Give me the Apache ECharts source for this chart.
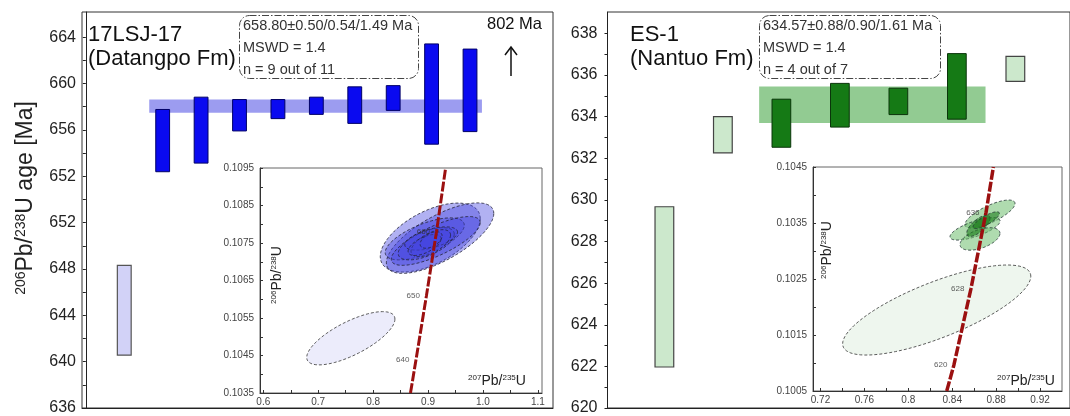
<!DOCTYPE html>
<html>
<head>
<meta charset="utf-8">
<script src="https://cdn.jsdelivr.net/npm/echarts@6/dist/echarts.min.js"></script>
<style>
html, body { margin: 0; padding: 0; background: #fff; }
#chart { width: 1070px; height: 416px; }
</style>
</head>
<body>
<div id="chart"></div>
<script>
// 17LSJ-17 (Datangpo Fm): spot number, 206Pb/238U age range [Ma], used in mean (1) or not (0)
var lsjSpot = [1, 2, 3, 4, 5, 6, 7, 8, 9, 10];
var lsjLow  = [639.99, 653.84, 654.49, 656.92, 657.85, 658.17, 657.49, 658.47, 655.92, 656.87];
var lsjHigh = [646.77, 658.54, 659.47, 659.29, 659.29, 659.47, 660.25, 660.34, 663.49, 663.10];
var lsjUsed = [0, 1, 1, 1, 1, 1, 1, 1, 1, 1];
var lsjMean = 658.80, lsjErr = 0.50, lsjBandFrom = 1.65, lsjBandTo = 10.31;
var lsjTickValues = [636, 639.5, 643, 646.5, 650, 653.5, 657, 660.5, 664];
var lsjTickLabels = ['636', '640', '644', '648', '652', '652', '656', '660', '664'];

// ES-1 (Nantuo Fm)
var esSpot = [1, 2, 3, 4, 5, 6, 7];
var esLow  = [621.97, 632.26, 632.53, 633.50, 634.10, 633.88, 635.70];
var esHigh = [629.67, 634.00, 634.84, 635.60, 635.37, 637.03, 636.90];
var esUsed = [0, 0, 1, 1, 1, 1, 0];
var esMean = 634.57, esErr = 0.88, esBandFrom = 2.62, esBandTo = 6.49;
var esTickValues = [620, 622, 624, 626, 628, 630, 632, 634, 636, 638];
var esTickLabels = ['620', '622', '624', '626', '628', '630', '632', '634', '636', '638'];

// concordia insets: ellipse centre (207/235, 206/238), half extent x, half extent y, correlation, used
var lsjEllX   = [0.7594, 0.904, 0.9219, 0.894, 0.914, 0.8967, 0.9057, 0.905, 0.8937, 0.9056];
var lsjEllY   = [0.10496, 0.107645, 0.10763, 0.10761, 0.107555, 0.10748, 0.10762, 0.107495, 0.107447, 0.10758];
var lsjEllDX  = [0.0803, 0.091, 0.0978, 0.072, 0.081, 0.051, 0.048, 0.036, 0.030, 0.020];
var lsjEllDY  = [0.00071, 0.00092, 0.00094, 0.00056, 0.00065, 0.00043, 0.00031, 0.00036, 0.00028, 0.00022];
var lsjEllRho = [0.72, 0.55, 0.70, 0.65, 0.75, 0.60, 0.55, 0.60, 0.60, 0.50];
var lsjEllUsed = [0, 1, 1, 1, 1, 1, 1, 1, 1, 1];
var lsjConcX = [0.868, 0.878, 0.897, 0.9155, 0.932];
var lsjConcY = [0.1035, 0.10438, 0.10609, 0.10781, 0.1095];
var lsjConcAge = ['', '640', '650', '660', ''];
var lsjInsetXValues = [0.6, 0.7, 0.8, 0.9, 1.0, 1.1];
var lsjInsetXLabels = ['0.6', '0.7', '0.8', '0.9', '1.0', '1.1'];
var lsjInsetYValues = [0.1035, 0.1045, 0.1055, 0.1065, 0.1075, 0.1085, 0.1095];
var lsjInsetYLabels = ['0.1035', '0.1045', '0.1055', '0.1065', '0.1075', '0.1085', '0.1095'];

var esEllX   = [0.8259, 0.8744, 0.8608, 0.8653, 0.8638, 0.871];
var esEllY   = [0.101946, 0.10366, 0.103395, 0.103215, 0.10345, 0.10355];
var esEllDX  = [0.0857, 0.0228, 0.0228, 0.0182, 0.0106, 0.012];
var esEllDY  = [0.000804, 0.00025, 0.0002, 0.0002, 0.00019, 0.00015];
var esEllRho = [0.75, 0.75, 0.70, 0.50, 0.70, 0.80];
var esEllUsed = [0, 1, 1, 1, 2, 2];
var esConcX = [0.835, 0.8415, 0.857, 0.8708, 0.8775];
var esConcY = [0.1005, 0.10096, 0.10232, 0.10369, 0.1045];
var esConcAge = ['', '620', '628', '636', ''];
var esInsetXValues = [0.72, 0.76, 0.80, 0.84, 0.88, 0.92];
var esInsetXLabels = ['0.72', '0.76', '0.8', '0.84', '0.88', '0.92'];
var esInsetYValues = [0.1005, 0.1015, 0.1025, 0.1035, 0.1045];
var esInsetYLabels = ['0.1005', '0.1015', '0.1025', '0.1035', '0.1045'];

var FONT = 'Liberation Sans, Arial, sans-serif';
var chart = echarts.init(document.getElementById('chart'));

function withMids(vals) {
  var out = [];
  for (var i = 0; i < vals.length; i++) {
    out.push(vals[i]);
    if (i < vals.length - 1) out.push((vals[i] + vals[i + 1]) / 2);
  }
  return out;
}
function labelFor(vals, labels) {
  return function (v) {
    for (var i = 0; i < vals.length; i++) {
      if (Math.abs(vals[i] - v) < 1e-7) return labels[i];
    }
    return '';
  };
}

function boxes(width, used, spare) {
  return function (params, api) {
    var x = api.value(0);
    var a = api.coord([x - width / 2, api.value(2)]);
    var b = api.coord([x + width / 2, api.value(1)]);
    return {
      type: 'rect',
      shape: {x: a[0], y: a[1], width: b[0] - a[0], height: b[1] - a[1]},
      style: api.value(3) === 1 ? used : spare
    };
  };
}
function band(style) {
  return function (params, api) {
    var a = api.coord([api.value(0), api.value(2) + api.value(3)]);
    var b = api.coord([api.value(1), api.value(2) - api.value(3)]);
    return {type: 'rect', shape: {x: a[0], y: a[1], width: b[0] - a[0], height: b[1] - a[1]}, style: style};
  };
}
function ellipse(styles) {
  return function (params, api) {
    var cx = api.value(0), cy = api.value(1), ex = api.value(2), ey = api.value(3), r = api.value(4);
    var q = Math.sqrt(1 - r * r), pts = [];
    for (var k = 0; k < 90; k++) {
      var t = k / 90 * Math.PI * 2;
      pts.push(api.coord([cx + ex * Math.cos(t), cy + ey * (r * Math.cos(t) + q * Math.sin(t))]));
    }
    return {type: 'polygon', shape: {points: pts}, style: styles[api.value(5)]};
  };
}

function mainY(grid, min, max, vals, labels, margin) {
  return {
    type: 'value', gridIndex: grid, min: min, max: max,
    axisLine: {show: true, lineStyle: {color: '#222', width: 1}},
    axisTick: {show: true, length: 3, customValues: withMids(vals), lineStyle: {color: '#222'}},
    axisLabel: {customValues: vals, formatter: labelFor(vals, labels), fontSize: 16, color: '#222', margin: margin, fontFamily: FONT},
    splitLine: {show: false}
  };
}
function mainX(grid, min, max) {
  return {
    type: 'value', gridIndex: grid, min: min, max: max,
    axisLine: {show: true, onZero: false, lineStyle: {color: '#222', width: 1}},
    axisTick: {show: false}, axisLabel: {show: false}, splitLine: {show: false}
  };
}
function insetAxis(grid, min, max, vals, labels, margin) {
  return {
    type: 'value', gridIndex: grid, min: min, max: max,
    axisLine: {show: true, onZero: false, lineStyle: {color: '#333', width: 1}},
    axisTick: {show: true, inside: true, length: 3, customValues: withMids(vals), lineStyle: {color: '#333'}},
    axisLabel: {customValues: vals, formatter: labelFor(vals, labels), fontSize: 10, color: '#444', margin: margin, fontFamily: FONT},
    splitLine: {show: false}
  };
}

function zip2(a, b) { return a.map(function (v, i) { return [v, b[i]]; }); }

var lsjBoxes = lsjSpot.map(function (s, i) { return [s, lsjLow[i], lsjHigh[i], lsjUsed[i]]; });
var esBoxes = esSpot.map(function (s, i) { return [s, esLow[i], esHigh[i], esUsed[i]]; });
var lsjEll = lsjEllX.map(function (v, i) { return [v, lsjEllY[i], lsjEllDX[i], lsjEllDY[i], lsjEllRho[i], lsjEllUsed[i]]; });
var esEll = esEllX.map(function (v, i) { return [v, esEllY[i], esEllDX[i], esEllDY[i], esEllRho[i], esEllUsed[i]]; });

var dash = [3, 2];
var option = {
  animation: false,
  textStyle: {fontFamily: FONT},
  grid: [
    {left: 82, top: 12, width: 471, height: 398.5, show: true, borderColor: '#333', borderWidth: 1},
    {left: 607.5, top: 12, width: 467.5, height: 398.5, show: true, borderColor: '#333', borderWidth: 1},
    {left: 260, top: 168, width: 282, height: 225, show: true, borderColor: '#666', borderWidth: 1, backgroundColor: '#fff'},
    {left: 813, top: 167, width: 249, height: 224, show: true, borderColor: '#666', borderWidth: 1, backgroundColor: '#fff'}
  ],
  xAxis: [
    mainX(0, -0.1, 12.16),
    mainX(1, 0.0276, 7.934),
    insetAxis(2, 0.594, 1.1075, lsjInsetXValues, lsjInsetXLabels, 4),
    insetAxis(3, 0.7132, 0.94, esInsetXValues, esInsetXLabels, 4)
  ],
  yAxis: [
    mainY(0, 636, 665.9, lsjTickValues, lsjTickLabels, 6),
    mainY(1, 620, 639.03, esTickValues, esTickLabels, 10),
    insetAxis(2, 0.1035, 0.1095, lsjInsetYValues, lsjInsetYLabels, 6),
    insetAxis(3, 0.1005, 0.1045, esInsetYValues, esInsetYLabels, 6)
  ],
  series: [
    {type: 'custom', xAxisIndex: 0, yAxisIndex: 0, data: [[lsjBandFrom, lsjBandTo, lsjMean, lsjErr]],
      renderItem: band({fill: '#9c9cf0'})},
    {type: 'custom', xAxisIndex: 0, yAxisIndex: 0, data: lsjBoxes,
      renderItem: boxes(0.36, {fill: '#0a0af0', stroke: '#000066', lineWidth: 1}, {fill: '#d2d2f7', stroke: '#555', lineWidth: 1.2})},
    {type: 'custom', xAxisIndex: 1, yAxisIndex: 1, data: [[esBandFrom, esBandTo, esMean, esErr]],
      renderItem: band({fill: '#92cb92'})},
    {type: 'custom', xAxisIndex: 1, yAxisIndex: 1, data: esBoxes,
      renderItem: boxes(0.32, {fill: '#157a15', stroke: '#0b350b', lineWidth: 1}, {fill: '#cce8cc', stroke: '#444', lineWidth: 1.2})},

    {type: 'line', xAxisIndex: 2, yAxisIndex: 2, data: zip2(lsjConcX, lsjConcY), symbol: 'none',
      lineStyle: {color: '#9b1010', width: 3, type: [10, 2]}},
    {type: 'custom', xAxisIndex: 2, yAxisIndex: 2, data: lsjEll,
      renderItem: ellipse([
        {fill: '#ececfb', stroke: '#333', lineWidth: 0.8, lineDash: dash},
        {fill: 'rgba(70,70,225,0.42)', stroke: '#223', lineWidth: 0.8, lineDash: dash}
      ])},
    {type: 'scatter', xAxisIndex: 2, yAxisIndex: 2, data: zip2(lsjConcX, lsjConcY), symbolSize: 1,
      itemStyle: {color: 'rgba(0,0,0,0)'},
      label: {show: true, position: 'left', distance: 6, fontSize: 8, color: '#333',
        formatter: function (p) { return lsjConcAge[p.dataIndex]; }}},

    {type: 'line', xAxisIndex: 3, yAxisIndex: 3, data: zip2(esConcX, esConcY), symbol: 'none',
      lineStyle: {color: '#9b1010', width: 3.5, type: [10, 2]}},
    {type: 'custom', xAxisIndex: 3, yAxisIndex: 3, data: esEll,
      renderItem: ellipse([
        {fill: '#eef6ee', stroke: '#333', lineWidth: 0.8, lineDash: dash},
        {fill: 'rgba(110,190,110,0.55)', stroke: '#233', lineWidth: 0.8, lineDash: dash},
        {fill: 'rgba(30,125,30,0.6)', stroke: '#233', lineWidth: 0.8, lineDash: dash}
      ])},
    {type: 'scatter', xAxisIndex: 3, yAxisIndex: 3, data: zip2(esConcX, esConcY), symbolSize: 1,
      itemStyle: {color: 'rgba(0,0,0,0)'},
      label: {show: true, position: 'left', distance: 6, fontSize: 8, color: '#333',
        formatter: function (p) { return esConcAge[p.dataIndex]; }}}
  ],
  graphic: [
    {type: 'text', x: 26, y: 198, rotation: Math.PI / 2, z: 100,
      style: {text: '{s|206}{n|Pb/}{s|238}{n|U age [Ma]}', align: 'center', verticalAlign: 'middle', fill: '#222',
        rich: {n: {fontSize: 23, fontFamily: FONT, fill: '#222'}, s: {fontSize: 14, fontFamily: FONT, verticalAlign: 'top', fill: '#222'}}}},
    {type: 'text', x: 88, y: 23, z: 100,
      style: {text: '17LSJ-17\n(Datangpo Fm)', fontSize: 22, lineHeight: 24, fontFamily: FONT, fill: '#111', verticalAlign: 'top'}},
    {type: 'text', x: 630, y: 23, z: 100,
      style: {text: 'ES-1\n(Nantuo Fm)', fontSize: 22, lineHeight: 24, fontFamily: FONT, fill: '#111', verticalAlign: 'top'}},
    {type: 'rect', z: 100, shape: {x: 239.5, y: 15.5, width: 179, height: 63, r: 10},
      style: {fill: '#fff', stroke: '#444', lineWidth: 1, lineDash: [7, 2, 1.5, 2]}},
    {type: 'text', x: 243, y: 15, z: 101,
      style: {text: '658.80\u00b10.50/0.54/1.49 Ma\nMSWD = 1.4\nn = 9 out of 11', fontSize: 14.5, lineHeight: 22, fontFamily: FONT, fill: '#333', verticalAlign: 'top'}},
    {type: 'rect', z: 100, shape: {x: 759.5, y: 15.5, width: 181, height: 63, r: 10},
      style: {fill: '#fff', stroke: '#444', lineWidth: 1, lineDash: [7, 2, 1.5, 2]}},
    {type: 'text', x: 763, y: 15, z: 101,
      style: {text: '634.57\u00b10.88/0.90/1.61 Ma\nMSWD = 1.4\nn = 4 out of 7', fontSize: 14.5, lineHeight: 22, fontFamily: FONT, fill: '#333', verticalAlign: 'top'}},
    {type: 'text', x: 487, y: 24, z: 100,
      style: {text: '802 Ma', fontSize: 16.5, fontFamily: FONT, fill: '#111', verticalAlign: 'middle'}},
    {type: 'line', z: 100, shape: {x1: 511, y1: 76, x2: 511, y2: 47}, style: {stroke: '#111', lineWidth: 1.5}},
    {type: 'polyline', z: 100, shape: {points: [[505, 55], [511, 47], [517, 55]]}, style: {stroke: '#111', lineWidth: 1.5, fill: null}},

    {type: 'text', x: 277, y: 275, rotation: Math.PI / 2, z: 100,
      style: {text: '{s|206}{n|Pb/}{s|238}{n|U}', align: 'center', verticalAlign: 'middle',
        rich: {n: {fontSize: 14, fontFamily: FONT, fill: '#222'}, s: {fontSize: 8, fontFamily: FONT, verticalAlign: 'top', fill: '#222'}}}},
    {type: 'text', x: 497, y: 381, z: 100,
      style: {text: '{s|207}{n|Pb/}{s|235}{n|U}', align: 'center', verticalAlign: 'middle',
        rich: {n: {fontSize: 14, fontFamily: FONT, fill: '#222'}, s: {fontSize: 8, fontFamily: FONT, verticalAlign: 'top', fill: '#222'}}}},
    {type: 'text', x: 827, y: 250, rotation: Math.PI / 2, z: 100,
      style: {text: '{s|206}{n|Pb/}{s|238}{n|U}', align: 'center', verticalAlign: 'middle',
        rich: {n: {fontSize: 14, fontFamily: FONT, fill: '#222'}, s: {fontSize: 8, fontFamily: FONT, verticalAlign: 'top', fill: '#222'}}}},
    {type: 'text', x: 1026, y: 381, z: 100,
      style: {text: '{s|207}{n|Pb/}{s|235}{n|U}', align: 'center', verticalAlign: 'middle',
        rich: {n: {fontSize: 14, fontFamily: FONT, fill: '#222'}, s: {fontSize: 8, fontFamily: FONT, verticalAlign: 'top', fill: '#222'}}}}
  ]
};
chart.setOption(option);
</script>
</body>
</html>
